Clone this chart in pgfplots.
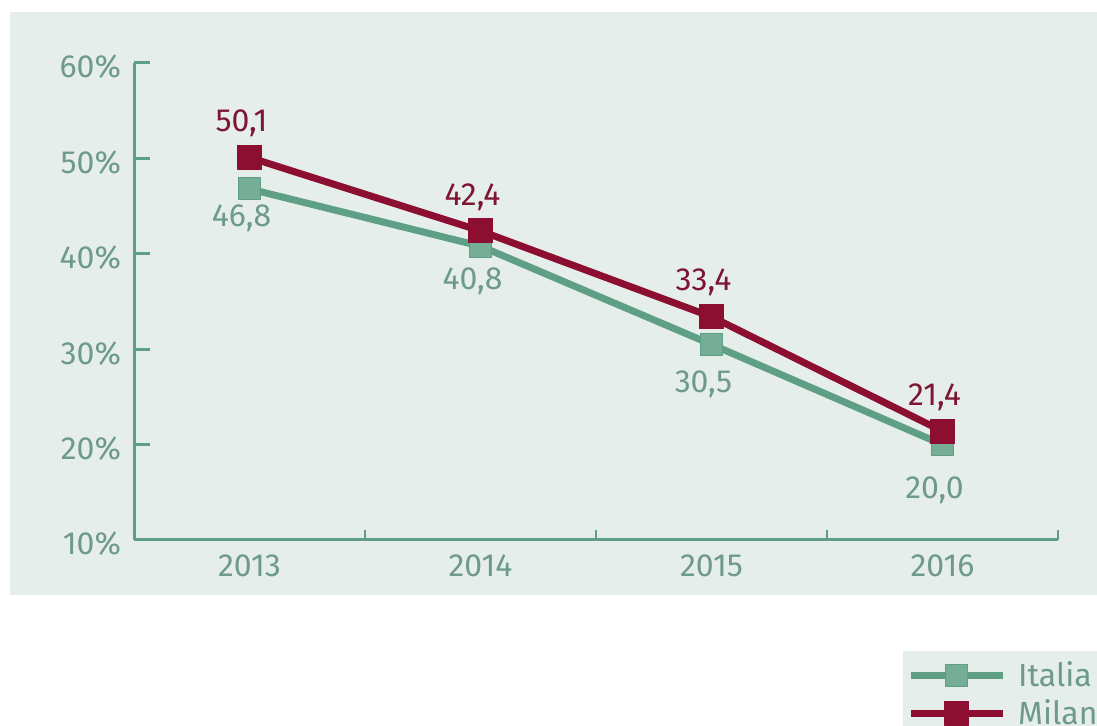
\documentclass[border=0pt]{standalone}
\usepackage{pgfplots}
\pgfplotsset{compat=1.18}
\usepackage{fontspec}
\setmainfont{Fira Sans}
\definecolor{bg}{HTML}{E6EEEB}
\definecolor{gline}{HTML}{5E9F85}
\definecolor{gtext}{HTML}{6E9A8C}
\definecolor{rline}{HTML}{8C0E30}
\definecolor{rtext}{HTML}{7E1532}
\begin{document}
\begin{tikzpicture}
\useasboundingbox (0,0) rectangle (548.5pt,363pt);
\clip (0,0) rectangle (548.5pt,363pt);
\fill[white] (0,0) rectangle (548.5pt,363pt);
\fill[bg] (5pt,65.5pt) rectangle (548.5pt,357pt);
\begin{axis}[
  at={(67pt,93pt)}, anchor=south west,
  scale only axis, width=462pt, height=238.5pt,
  xmin=0.5, xmax=4.5, ymin=10, ymax=60,
  axis lines*=left,
  axis line style={gline, line width=1.5pt},
  every axis plot/.append style={line join=round},
  ytick={10,20,30,40,50,60},
  yticklabels={10\%,20\%,30\%,40\%,50\%,60\%},
  xtick={1,2,3,4},
  xticklabels={2013,2014,2015,2016},
  minor xtick={1.5,2.5,3.5,4.5},
  tick align=inside,
  major tick length=8pt,
  minor tick length=5pt,
  x tick style={draw=none},
  minor x tick style={draw=gline, line width=1.2pt},
  y tick style={gline, line width=1.5pt},
  tick label style={font=\fontsize{16}{19}\selectfont, text=gtext},
  yticklabel style={xshift=-3pt, yshift=-2pt},
  xticklabel style={yshift=-4pt},
  /pgf/number format/assume math mode=true,
  /pgf/number format/.cd, use comma, fixed, fixed zerofill, precision=1, /pgfplots/.cd,
  clip=false,
  legend style={at={(0.832,-0.2325)}, anchor=north west, fill=bg, draw=none,
    font=\fontsize{16}{19}\selectfont, text=gtext, row sep=1pt, column sep=4pt,
    inner xsep=2pt, inner ysep=3pt, cells={anchor=west}},
  legend image code/.code={
    \draw[#1, mark repeat=2, mark phase=2] plot coordinates {(0pt,0pt) (23pt,0pt) (46pt,0pt)};
  },
]
\addplot[gline, line width=3.5pt, mark=square*, mark size=5.5pt,
  mark options={solid, line width=0.5pt, fill=gline!85!white},
  visualization depends on={x \as \xv},
  nodes near coords,
  nodes near coords style={anchor=center, xshift=-4pt, yshift={-12.3pt-2.6pt*\xv}, font=\fontsize{16}{19}\selectfont, text=gtext}]
  coordinates {(1,46.8) (2,40.8) (3,30.5) (4,20.0)};
\addlegendentry{Italia}
\addplot[rline, line width=3.5pt, mark=square*, mark size=6pt,
  mark options={solid, line width=0.5pt, fill=rline},
  nodes near coords,
  nodes near coords style={anchor=center, xshift=-4pt, yshift=17pt, font=\fontsize{16}{19}\selectfont, text=rtext}]
  coordinates {(1,50.1) (2,42.4) (3,33.4) (4,21.4)};
\addlegendentry{Milano}
\end{axis}
\end{tikzpicture}
\end{document}
